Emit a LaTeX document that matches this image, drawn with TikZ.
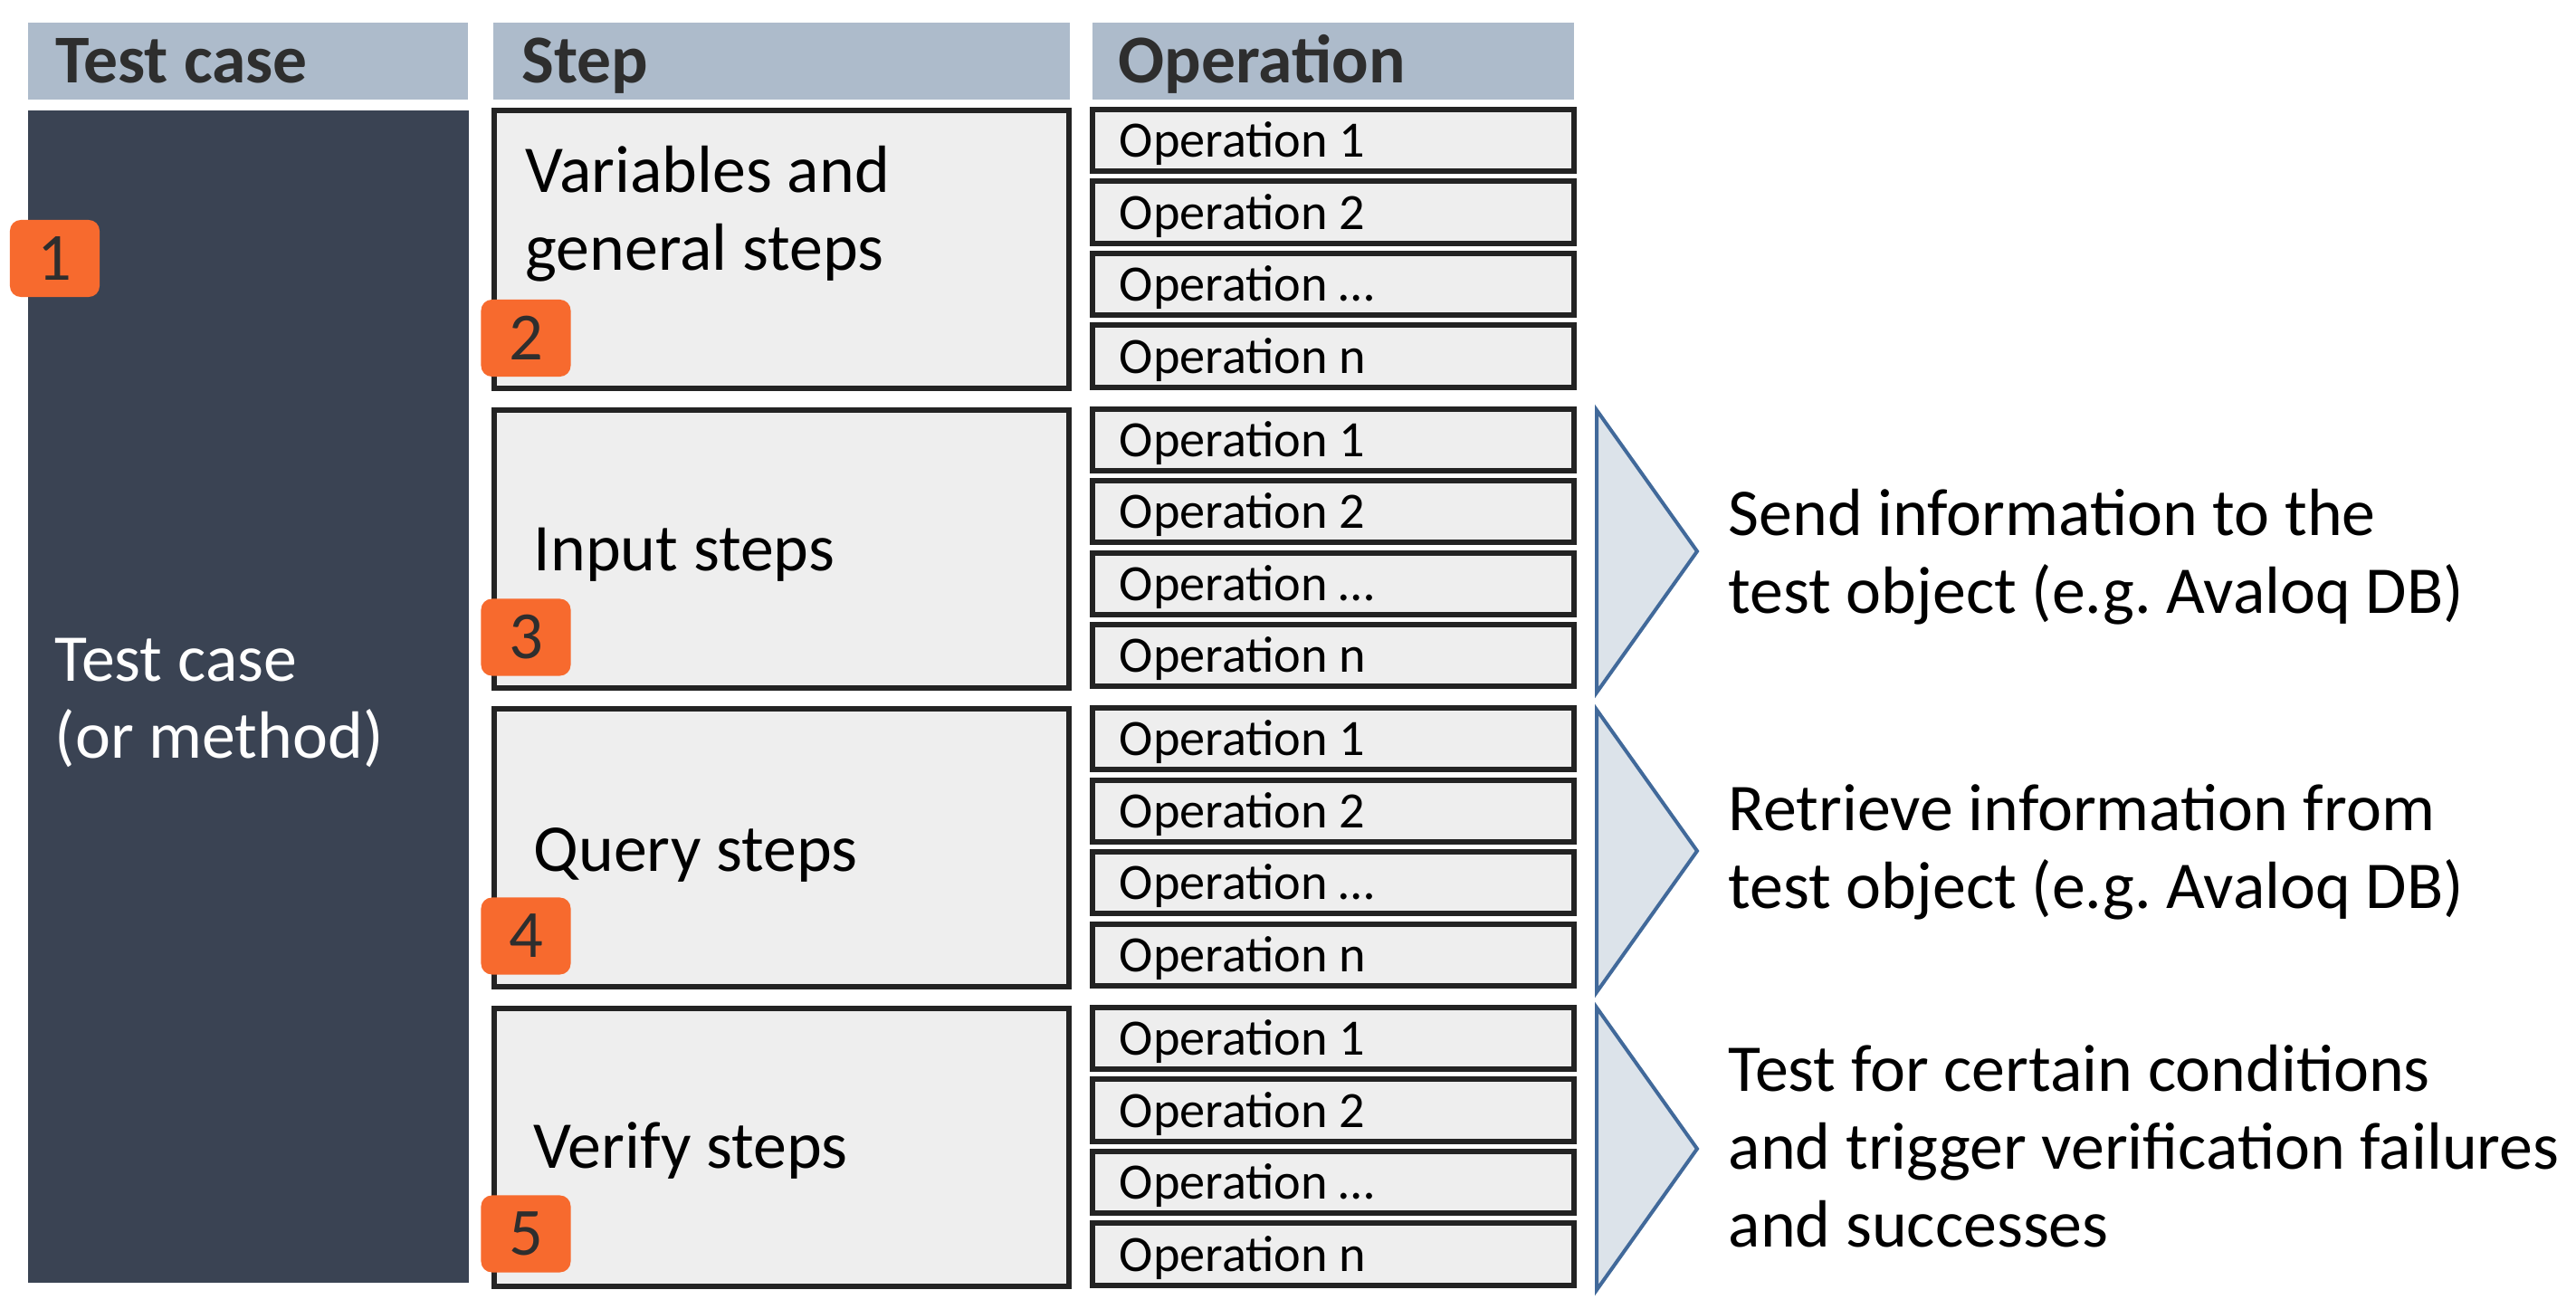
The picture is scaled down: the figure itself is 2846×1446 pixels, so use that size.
\documentclass[tikz,border=0pt]{standalone}
\usepackage{fontspec}
\setmainfont{Carlito}
\frenchspacing
\usetikzlibrary{positioning}
\definecolor{headblue}{RGB}{173, 187, 203}
\definecolor{headtext}{RGB}{46, 46, 46}
\definecolor{caseblue}{RGB}{58, 67, 83}
\definecolor{stepgrey}{RGB}{238, 238, 238}
\definecolor{boxline}{RGB}{35, 35, 35}
\definecolor{badgeorange}{RGB}{247, 106, 46}
\definecolor{chevfill}{RGB}{220, 227, 234}
\definecolor{chevline}{RGB}{65, 105, 154}
\newcommand{\bigfont}{\fontsize{21}{24.4}\selectfont}
\newcommand{\opfont}{\fontsize{16}{18}\selectfont}
\tikzstyle{header} = [
  fill=headblue,
  inner sep=0pt,
  minimum height=0.85cm,
]
\tikzstyle{headlabel} = [
  anchor=base west,
  inner sep=0pt,
  text=headtext,
  font=\fontsize{21.5}{24.4}\selectfont\bfseries,
]
\tikzstyle{stepbox} = [
  draw=boxline,
  line width=0.06cm,
  fill=stepgrey,
  minimum width=6.35cm,
  minimum height=3.07cm,
  inner sep=0pt,
]
\tikzstyle{textblock} = [
  anchor=base west,
  inner sep=0pt,
  font=\bigfont,
  text width=5.5cm,
  align=flush left,
]
\tikzstyle{notetext} = [
  anchor=base west,
  inner sep=0pt,
  font=\bigfont,
  align=left,
]
\tikzstyle{opbox} = [
  draw=boxline,
  line width=0.06cm,
  fill=stepgrey,
  minimum width=5.32cm,
  minimum height=0.68cm,
  inner xsep=0.3cm,
  inner ysep=0pt,
  text width=4.72cm,
  align=flush left,
  text height=0.46cm,
  text depth=0.09cm,
  font=\opfont,
]
\tikzstyle{badge} = [
  fill=badgeorange,
  rounded corners=0.12cm,
  minimum width=0.99cm,
  minimum height=0.85cm,
  inner sep=0pt,
  text=headtext,
  font=\fontsize{21.2}{24.4}\selectfont,
]
\tikzstyle{chevron} = [
  draw=chevline,
  line width=0.04cm,
  fill=chevfill,
]

\begin{document}
\begin{tikzpicture}[x=0.01cm, y=-0.01cm]
            \useasboundingbox[fill=white] (0,0) rectangle (2846,1446);

            % Headers
            \node[header, minimum width=4.86cm] (hcase) at (274,67.5) {};
            \node[header, minimum width=6.37cm] (hstep) at (863.5,67.5) {};
            \node[header, minimum width=5.32cm] (hop) at (1473,67.5) {};
            \node[headlabel] (hcasetext) at (61,92) {Test case};
            \node[headlabel] (hsteptext) at (576,92) {Step};
            \node[headlabel] (hoptext) at (1235,92) {Operation};

            % Test case column
            \node[fill=caseblue, minimum width=4.87cm, minimum height=12.95cm, inner sep=0pt] (case) at (274.5,769.5) {};
            \node[textblock, text=white] (casetext) at (60,752) {Test case\\(or method)};

            % Steps
            \node[stepbox] (vars) at (863.5,275.5) {};
            \node[stepbox] (input) at (863.5,606.2) {};
            \node[stepbox] (query) at (863.5,936.8) {};
            \node[stepbox] (verify) at (863.5,1267.5) {};
            \node[textblock] (varstext) at (580,213) {Variables and\\general steps};
            \node[textblock] (inputtext) at (589,630) {Input steps};
            \node[textblock] (querytext) at (589,962) {Query steps};
            \node[textblock] (verifytext) at (589,1290) {Verify steps};

            % Operations
            \node[opbox] (vars1) at (1473,155) {Operation 1};
            \node[opbox] (vars2) at (1473,234.5) {Operation 2};
            \node[opbox] (vars3) at (1473,314) {Operation \dots};
            \node[opbox] (vars4) at (1473,393.5) {Operation n};
            \node[opbox] (input1) at (1473,485.7) {Operation 1};
            \node[opbox] (input2) at (1473,565.2) {Operation 2};
            \node[opbox] (input3) at (1473,644.7) {Operation \dots};
            \node[opbox] (input4) at (1473,724.2) {Operation n};
            \node[opbox] (query1) at (1473,816.3) {Operation 1};
            \node[opbox] (query2) at (1473,895.8) {Operation 2};
            \node[opbox] (query3) at (1473,975.3) {Operation \dots};
            \node[opbox] (query4) at (1473,1054.8) {Operation n};
            \node[opbox] (verify1) at (1473,1147) {Operation 1};
            \node[opbox] (verify2) at (1473,1226.5) {Operation 2};
            \node[opbox] (verify3) at (1473,1306) {Operation \dots};
            \node[opbox] (verify4) at (1473,1385.5) {Operation n};

            % Badges
            \node[badge] (badge1) at (60.5,285.5) {1};
            \node[badge] (badge2) at (581,373.5) {2};
            \node[badge] (badge3) at (581,704) {3};
            \node[badge] (badge4) at (581,1034) {4};
            \node[badge] (badge5) at (581,1363) {5};

            % Chevrons
            \draw[chevron] (1764,453) -- (1875,609) -- (1764,765) -- cycle;
            \draw[chevron] (1764,784) -- (1875,940) -- (1764,1096) -- cycle;
            \draw[chevron] (1764,1113) -- (1875,1269) -- (1764,1425) -- cycle;

            % Descriptions (anchored at the last line)
            \node[notetext] (inputnote) at (1909,677) {Send information to the\\test object (e.g. Avaloq DB)};
            \node[notetext] (querynote) at (1909,1003) {Retrieve information from\\test object (e.g. Avaloq DB)};
            \node[notetext] (verifynote) at (1909,1377) {Test for certain conditions\\and trigger verification failures\\and successes};
          \end{tikzpicture}
\end{document}
